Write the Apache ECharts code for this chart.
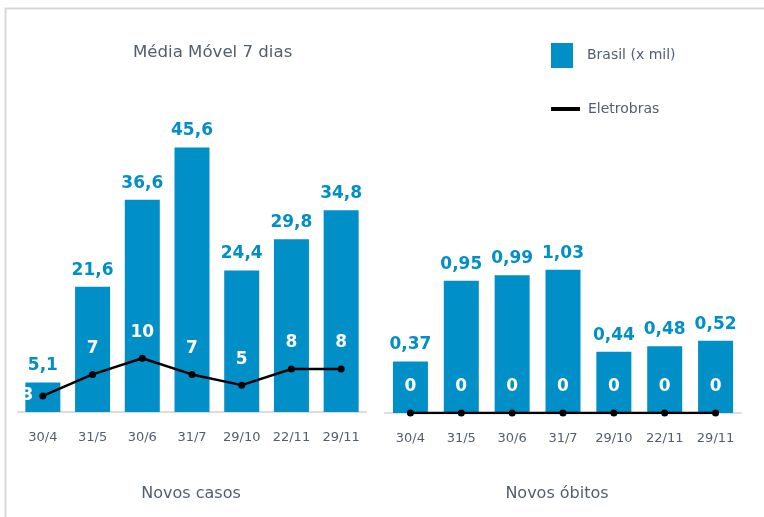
<!DOCTYPE html>
<html style="height: 100%">
    <head>
        <meta charset="utf-8">
        <title>Média Móvel 7 dias</title>
        <script type="text/javascript" src="https://fastly.jsdelivr.net/npm/echarts@6/dist/echarts.min.js"></script>
    </head>
    <body style="height: 100%; margin: 0; background: #fff">
        <div id="target" style="width: 764px; height: 517px"></div>

<script>
// chart data
const categories = ["30/4", "31/5", "30/6", "31/7", "29/10", "22/11", "29/11"];
const casosBrasil = [5.1, 21.6, 36.6, 45.6, 24.4, 29.8, 34.8];
const casosEletrobras = [3, 7, 10, 7, 5, 8, 8];
const obitosBrasil = [0.37, 0.95, 0.99, 1.03, 0.44, 0.48, 0.52];
const obitosEletrobras = [0, 0, 0, 0, 0, 0, 0];

const BLUE = "#008fc6";
const TEXT = "#525d6e";
const FONT = "DejaVu Sans";

let chart = echarts.init(document.getElementById('target'));

let fmt = (p) => String(p.value).replace(".", ",");

let xAxisFor = (gridIndex) => ({
    type: "category",
    gridIndex: gridIndex,
    data: categories,
    axisTick: { show: false },
    axisLine: { lineStyle: { color: "#dcdcdc", width: 2 } },
    axisLabel: { color: TEXT, fontSize: 13, fontFamily: FONT, margin: 19 },
});

let yAxisFor = (gridIndex, max) => ({
    type: "value",
    gridIndex: gridIndex,
    min: 0,
    max: max,
    show: false,
    splitLine: { show: false },
});

let barLabel = {
    show: true,
    position: "top",
    distance: 8,
    color: BLUE,
    fontSize: 17,
    fontWeight: "bold",
    fontFamily: FONT,
    formatter: fmt,
};

let lineLabel = {
    show: true,
    position: "top",
    distance: 14,
    color: "#fff",
    fontSize: 17,
    fontWeight: "bold",
    fontFamily: FONT,
    formatter: fmt,
};

let titleStyle = { color: TEXT, fontSize: 16, fontWeight: "normal", fontFamily: FONT };

let option = {
    animation: false,
    backgroundColor: "#fff",
    textStyle: { fontFamily: FONT },

    title: [
        { text: "Média Móvel 7 dias", left: 128, top: 39,
          textStyle: Object.assign({}, titleStyle, { fontSize: 16.6 }) },
        { text: "Novos casos", left: 186, top: 481, textAlign: "center", textStyle: titleStyle },
        { text: "Novos óbitos", left: 552, top: 481, textAlign: "center", textStyle: titleStyle },
    ],

    legend: [
        {
            data: ["Brasil (x mil)"],
            left: 546, top: 38,
            itemWidth: 22, itemHeight: 25,
            icon: "rect",
            textStyle: { color: TEXT, fontSize: 14, fontFamily: FONT, padding: [0, 0, 0, 9] },
        },
        {
            data: [{ name: "Eletrobras", icon: "rect", itemStyle: { color: "#000" } }],
            left: 546, top: 97,
            itemWidth: 29, itemHeight: 4,
            textStyle: { color: TEXT, fontSize: 14, fontFamily: FONT, padding: [0, 0, 0, 3] },
        },
    ],

    grid: [
        { left: 18, width: 348, top: 122, height: 290 },
        { left: 385, width: 356, top: 246, height: 167 },
    ],

    xAxis: [xAxisFor(0), xAxisFor(1)],
    yAxis: [yAxisFor(0, 50), yAxisFor(0, 54), yAxisFor(1, 1.2)],

    series: [
        {
            name: "Brasil (x mil)", type: "bar",
            xAxisIndex: 0, yAxisIndex: 0,
            data: casosBrasil, barWidth: 35,
            itemStyle: { color: BLUE },
            label: barLabel,
        },
        {
            name: "Eletrobras", type: "line",
            xAxisIndex: 0, yAxisIndex: 1,
            data: casosEletrobras.map((v, i) => i === 0 ? { value: v, label: { position: "left", distance: 6 } } : v),
            symbol: "circle", symbolSize: 7,
            lineStyle: { color: "#000", width: 2.5 },
            itemStyle: { color: "#000" },
            label: lineLabel, z: 3,
        },
        {
            name: "Brasil (x mil)", type: "bar",
            xAxisIndex: 1, yAxisIndex: 2,
            data: obitosBrasil, barWidth: 35,
            itemStyle: { color: BLUE },
            label: barLabel,
        },
        {
            name: "Eletrobras", type: "line",
            xAxisIndex: 1, yAxisIndex: 2,
            data: obitosEletrobras,
            symbol: "circle", symbolSize: 7,
            lineStyle: { color: "#000", width: 2.5 },
            itemStyle: { color: "#000" },
            label: lineLabel, z: 3,
        },
    ],

    // light frame on the top and left
    graphic: [
        { type: "rect", silent: true, z: -1,
          shape: { x: 5.5, y: 8.5, width: 900, height: 700 },
          style: { fill: null, stroke: "#d9d9d9", lineWidth: 2 } },
    ],
};

chart.setOption(option);
</script>
    </body>
</html>
